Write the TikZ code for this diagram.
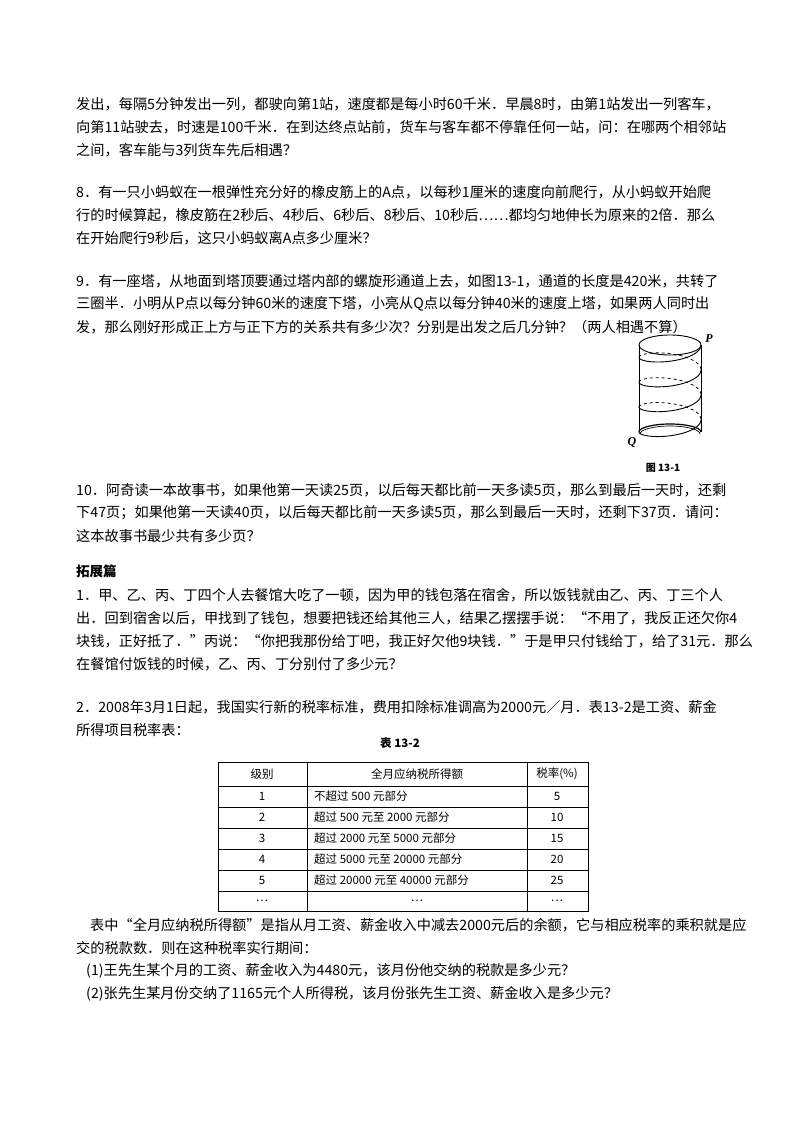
\documentclass[tikz,border=0pt]{standalone}
\usepackage{fontspec}
\setmainfont{Noto Sans CJK SC}
\newfontfamily\serifen{Liberation Serif}
\begin{document}
\begin{tikzpicture}[x=1pt,y=-1pt,
  ln/.style={anchor=west,inner sep=0pt,font=\fontsize{14.2}{16}\selectfont},
  cell/.style={inner sep=0pt,font=\fontsize{11.5}{13}\selectfont}]
\useasboundingbox[fill=white] (0,0) rectangle (800,1132);
\node[ln] (l1) at (76,104) {发出，每隔5分钟发出一列，都驶向第1站，速度都是每小时60千米．早晨8时，由第1站发出一列客车，};
\node[ln] (l2) at (76,127) {向第11站驶去，时速是100千米．在到达终点站前，货车与客车都不停靠任何一站，问：在哪两个相邻站};
\node[ln] (l3) at (76,150) {之间，客车能与3列货车先后相遇？};
\node[ln] (l4) at (76,192) {8．有一只小蚂蚁在一根弹性充分好的橡皮筋上的A点，以每秒1厘米的速度向前爬行，从小蚂蚁开始爬};
\node[ln] (l5) at (76,215) {行的时候算起，橡皮筋在2秒后、4秒后、6秒后、8秒后、10秒后……都均匀地伸长为原来的2倍．那么};
\node[ln] (l6) at (76,238) {在开始爬行9秒后，这只小蚂蚁离A点多少厘米？};
\node[ln] (l7) at (76,281) {9．有一座塔，从地面到塔顶要通过塔内部的螺旋形通道上去，如图13-1，通道的长度是420米，共转了};
\node[ln] (l8) at (76,304) {三圈半．小明从P点以每分钟60米的速度下塔，小亮从Q点以每分钟40米的速度上塔，如果两人同时出};
\node[ln] (l9) at (76,327) {发，那么刚好形成正上方与正下方的关系共有多少次？分别是出发之后几分钟？（两人相遇不算）};
\node[ln] (l10) at (76,490) {10．阿奇读一本故事书，如果他第一天读25页，以后每天都比前一天多读5页，那么到最后一天时，还剩};
\node[ln] (l11) at (76,513) {下47页；如果他第一天读40页，以后每天都比前一天多读5页，那么到最后一天时，还剩下37页．请问：};
\node[ln] (l12) at (76,536) {这本故事书最少共有多少页？};
\node[ln,font=\fontsize{13.5}{16}\selectfont\bfseries] (h1) at (76,571) {拓展篇};
\node[ln] (l13) at (76,595) {1．甲、乙、丙、丁四个人去餐馆大吃了一顿，因为甲的钱包落在宿舍，所以饭钱就由乙、丙、丁三个人};
\node[ln] (l14) at (76,618) {出．回到宿舍以后，甲找到了钱包，想要把钱还给其他三人，结果乙摆摆手说：“不用了，我反正还欠你4};
\node[ln] (l15) at (76,641) {块钱，正好抵了．”丙说：“你把我那份给丁吧，我正好欠他9块钱．”于是甲只付钱给丁，给了31元．那么};
\node[ln] (l16) at (76,664) {在餐馆付饭钱的时候，乙、丙、丁分别付了多少元？};
\node[ln] (l17) at (76,707) {2．2008年3月1日起，我国实行新的税率标准，费用扣除标准调高为2000元／月．表13-2是工资、薪金};
\node[ln] (l18) at (76,730) {所得项目税率表：};
\node[ln] (l19) at (90,925) {表中“全月应纳税所得额”是指从月工资、薪金收入中减去2000元后的余额，它与相应税率的乘积就是应};
\node[ln] (l20) at (76,948) {交的税款数．则在这种税率实行期间：};
\node[ln] (l21) at (86,971) {(1)王先生某个月的工资、薪金收入为4480元，该月份他交纳的税款是多少元？};
\node[ln] (l22) at (86,994) {(2)张先生某月份交纳了1165元个人所得税，该月份张先生工资、薪金收入是多少元？};
% cylinder
\draw[line width=0.9pt] (670,345) ellipse [x radius=31,y radius=10];
\draw[line width=0.9pt] (639,345) -- (639,432) (701,345) -- (701,432);
\draw[line width=1.2pt] (639,432) arc[start angle=180,end angle=360,x radius=31,y radius=8];
\draw[line width=0.7pt] (640,434) arc[start angle=180,end angle=360,x radius=30,y radius=8];
\foreach \a in {0,360,720,1080}
  \draw[line width=0.9pt,domain=\a:\a+180,samples=30,variable=\u] plot ({670+31*cos(\u)},{345+\u/1260*87+10*sin(\u)});
\foreach \a in {180,540,900}
  \draw[line width=0.8pt,dashed,domain=\a:\a+180,samples=30,variable=\u] plot ({670+31*cos(\u)},{345+\u/1260*87+10*sin(\u)});
\node[font=\serifen\itshape\bfseries\fontsize{12}{14}\selectfont] (P) at (709,339) {P};
\node[font=\serifen\itshape\bfseries\fontsize{12}{14}\selectfont] (Q) at (632,442) {Q};
\node[font=\fontsize{10}{11}\selectfont\bfseries] (f1) at (663,468) {图 13-1};
% table
\node[font=\fontsize{11.5}{13}\selectfont\bfseries] (t) at (400,743) {表 13-2};
\draw[line width=0.9pt] (218,762) rectangle (588,911);
\foreach \y in {786,807,828,849,870,891} \draw[line width=0.7pt] (218,\y) -- (588,\y);
\draw[line width=0.7pt] (307,762) -- (307,911) (527,762) -- (527,911);
\node[cell] (c0a) at (262,774) {级别};
\node[cell] (c0b) at (417,774) {全月应纳税所得额};
\node[cell] (c0c) at (557,774) {税率(\%)};
\foreach \n/\y/\r/\txt in {1/796.5/5/不超过 500 元部分, 2/817.5/10/超过 500 元至 2000 元部分, 3/838.5/15/超过 2000 元至 5000 元部分, 4/859.5/20/超过 5000 元至 20000 元部分, 5/880.5/25/超过 20000 元至 40000 元部分}{
  \node[cell] (a\n) at (262,\y) {\n};
  \node[cell,anchor=west] (b\n) at (314,\y) {\txt};
  \node[cell] (r\n) at (557,\y) {\r};
}
\node[cell] (a6) at (262,901) {…};
\node[cell] (b6) at (417,901) {…};
\node[cell] (r6) at (557,901) {…};
\end{tikzpicture}
\end{document}
